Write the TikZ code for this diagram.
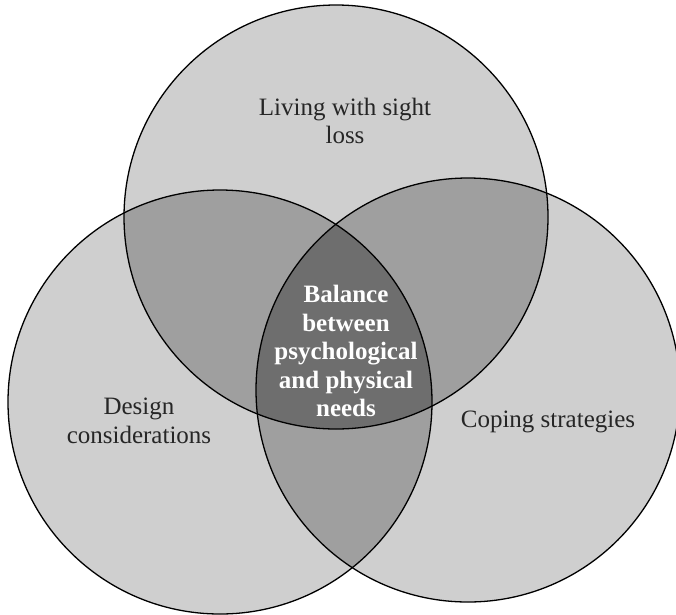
\documentclass[tikz,border=0pt]{standalone}
\usepackage{fontspec}
\setmainfont{Liberation Serif}
\begin{document}
\begin{tikzpicture}[x=1pt,y=-1pt,
  ring/.style={draw=black,line width=1.3pt},
  label/.style={font=\fontsize{25}{28.5}\selectfont,align=center,text=black!85},
  core/.style={font=\bfseries\fontsize{25}{28.5}\selectfont,align=center,text=white}]
\useasboundingbox (0,0) rectangle (676,614);
% circle centres and radius
\coordinate (T) at (336,217);
\coordinate (L) at (220,402);
\coordinate (R) at (468,390);
\def\rad{212}
% single areas
\fill[gray!38] (T) circle (\rad);
\fill[gray!38] (L) circle (\rad);
\fill[gray!38] (R) circle (\rad);
% pairwise overlaps
\begin{scope}\clip (T) circle (\rad); \fill[gray!75] (L) circle (\rad); \end{scope}
\begin{scope}\clip (T) circle (\rad); \fill[gray!75] (R) circle (\rad); \end{scope}
\begin{scope}\clip (L) circle (\rad); \fill[gray!75] (R) circle (\rad); \end{scope}
% common area
\begin{scope}\clip (T) circle (\rad); \clip (L) circle (\rad); \fill[black!57] (R) circle (\rad); \end{scope}
% outlines
\draw[ring] (T) circle (\rad);
\draw[ring] (L) circle (\rad);
\draw[ring] (R) circle (\rad);
% texts
\node[label] (top) at (345,121) {Living with sight\\loss};
\node[label] (left) at (139,421) {Design\\considerations};
\node[label] (right) at (548,422) {Coping strategies};
\node[core] (mid) at (346,351) {Balance\\between\\psychological\\and physical\\needs};
\end{tikzpicture}
\end{document}
